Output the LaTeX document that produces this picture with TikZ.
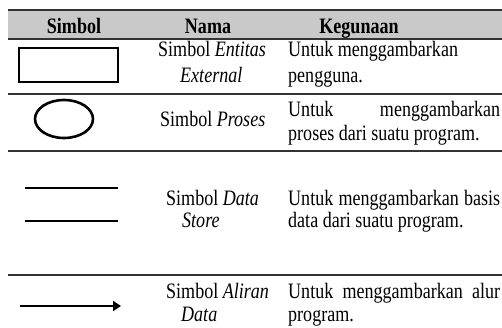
\documentclass[tikz,border=0pt]{standalone}
\usepackage{fontspec}
\setmainfont{Liberation Serif}[FakeStretch=0.82]
\usetikzlibrary{shapes.geometric,arrows.meta}
\newcommand{\bodysize}{\fontsize{22}{24}\selectfont}
\newcommand{\just}[1]{\makebox[212pt][l]{#1}}
\tikzset{
  cell/.style={font=\bodysize, inner sep=0pt, anchor=base west},
  headtext/.style={font=\bodysize\bfseries, inner sep=0pt, anchor=base},
  rule/.style={line width=1.3pt, draw=black!80},
  sym/.style={line width=2.6pt, draw=black},
}
\begin{document}
\begin{tikzpicture}[x=1pt,y=-1pt]
\useasboundingbox (0,0) rectangle (502,328);
% header band
\fill[black!21] (8,10) rectangle (502,39);
\draw[rule] (8,10) -- (502,10);
\draw[rule] (8,39) -- (502,39);
\node[headtext] (hSimbol) at (74,34) {Simbol};
\node[headtext] (hNama) at (208,34) {Nama};
\node[headtext] (hGuna) at (359,34) {Kegunaan};

% row separators
\draw[rule] (8,94) -- (502,94);
\draw[rule] (8,151) -- (502,151);
\draw[rule] (8,275) -- (502,275);

% row 1: external entity
\node[sym, rectangle, minimum width=99pt, minimum height=34pt, inner sep=0pt] (ent) at (68.5,65) {};
\node[cell] (n1a) at (158,57) {Simbol \textit{Entitas}};
\node[cell] (n1b) at (180,83) {\textit{External}};
\node[cell] (k1a) at (288,57) {Untuk menggambarkan};
\node[cell] (k1b) at (288,83) {pengguna.};

% row 2: process
\node[sym, ellipse, minimum width=58pt, minimum height=38pt, inner sep=0pt] (proc) at (64,119) {};
\node[cell] (n2) at (160,127) {Simbol \textit{Proses}};
\node[cell] (k2a) at (288,117) {\just{Untuk\hfill menggambarkan}};
\node[cell] (k2b) at (288,141) {proses dari suatu program.};

% row 3: data store
\coordinate (ds1a) at (25,188);
\coordinate (ds1b) at (118,188);
\coordinate (ds2a) at (25,221);
\coordinate (ds2b) at (118,221);
\draw[sym] (ds1a) -- (ds1b);
\draw[sym] (ds2a) -- (ds2b);
\node[cell] (n3a) at (166,206) {Simbol \textit{Data}};
\node[cell] (n3b) at (182,228) {\textit{Store}};
\node[cell] (k3a) at (288,206) {\just{Untuk\hfill menggambarkan\hfill basis}};
\node[cell] (k3b) at (288,228) {data dari suatu program.};

% row 4: data flow
\coordinate (fa) at (20,306);
\coordinate (fb) at (121,306);
\draw[sym, -{Triangle[length=8pt,width=10pt]}] (fa) -- (fb);
\node[cell] (n4a) at (166,298) {Simbol \textit{Aliran}};
\node[cell] (n4b) at (181,321) {\textit{Data}};
\node[cell] (k4a) at (288,298) {\just{Untuk\hfill menggambarkan\hfill alur}};
\node[cell] (k4b) at (288,321) {program.};
\end{tikzpicture}
\end{document}
